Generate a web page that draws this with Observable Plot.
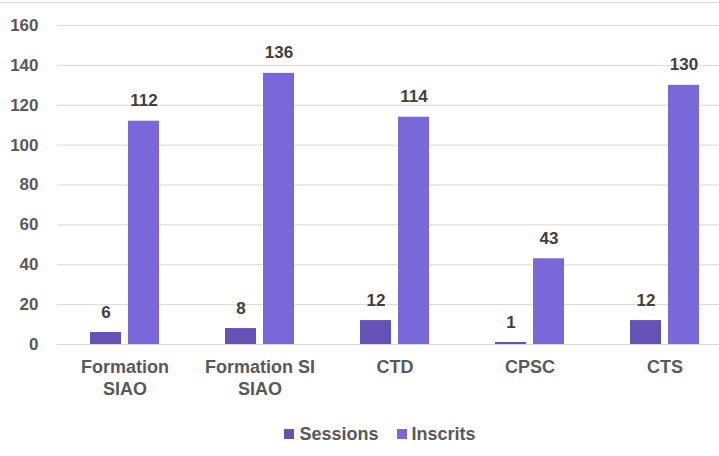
<!DOCTYPE html>
<html><head><meta charset="utf-8">
<script src="https://cdn.jsdelivr.net/npm/d3@7"></script>
<script src="https://cdn.jsdelivr.net/npm/@observablehq/plot@0.6"></script>
<style>
body{margin:0;background:#fff;font-family:"Liberation Sans",Arial,sans-serif;}
#wrap{width:719px;margin-top:2px;border-top:1px solid #d9d9d9;overflow:hidden;}
#chart svg{display:block;}
.legend{display:flex;justify-content:center;align-items:center;gap:18px;font-weight:bold;font-size:18px;color:#595959;margin-top:11px;padding-left:41px;line-height:20px;}
.legend span.item{display:flex;align-items:center;gap:5px;}
.legend span.sw{display:inline-block;width:10px;height:10px;}
</style>
</head><body>
<div id="wrap"><div id="chart"></div><div class="legend" id="legend"></div></div>
<script>
const categories = ["Formation SIAO", "Formation SI SIAO", "CTD", "CPSC", "CTS"];
const tickLabels = ["Formation\nSIAO", "Formation SI\nSIAO", "CTD", "CPSC", "CTS"];
const sessions = [6, 8, 12, 1, 12];
const inscrits = [112, 136, 114, 43, 130];
const seriesNames = ["Sessions", "Inscrits"];
const seriesColors = ["#6652b4", "#7a67d9"];
const yTicks = [0, 20, 40, 60, 80, 100, 120, 140, 160];

const sessRows = categories.map((c, i) => ({category: c, value: sessions[i]}));
const inscRows = categories.map((c, i) => ({category: c, value: inscrits[i]}));

const plot = Plot.plot({
  width: 719, height: 410,
  marginLeft: 57, marginRight: 0, marginTop: 22, marginBottom: 69,
  style: {fontFamily: "Liberation Sans, Arial, sans-serif", fontSize: "17px", fontWeight: "bold", background: "#fff"},
  x: {domain: categories, range: [57, 732], padding: 0, label: null},
  y: {domain: [0, 160], label: null},
  marks: [
    Plot.gridY(yTicks, {stroke: "#d9d9d9", strokeOpacity: 1, strokeWidth: 1}),
    Plot.axisY(yTicks, {tickSize: 0, tickPadding: 19, label: null, fill: "#595959", fontSize: 17}),
    Plot.axisX({tickSize: 0, tickPadding: 13, label: null, fill: "#595959", fontSize: 18, lineHeight: 1.22,
      tickFormat: d => tickLabels[categories.indexOf(d)]}),
    Plot.barY(sessRows, {x: "category", y: "value", fill: seriesColors[0], insetLeft: 33, insetRight: 71}),
    Plot.barY(inscRows, {x: "category", y: "value", fill: seriesColors[1], insetLeft: 71, insetRight: 33}),
    Plot.text(sessRows, {x: "category", y: "value", text: d => String(d.value), dx: -19, dy: -15, lineAnchor: "bottom", fill: "#404040", fontSize: 17, fontWeight: "bold"}),
    Plot.text(inscRows, {x: "category", y: "value", text: d => String(d.value), dx: 19, dy: -15, lineAnchor: "bottom", fill: "#404040", fontSize: 17, fontWeight: "bold"})
  ]
});
document.getElementById("chart").appendChild(plot);

const legend = document.getElementById("legend");
seriesNames.forEach((n, i) => {
  const it = document.createElement("span");
  it.className = "item";
  const sw = document.createElement("span");
  sw.className = "sw";
  sw.style.background = seriesColors[i];
  it.appendChild(sw);
  it.appendChild(document.createTextNode(n));
  legend.appendChild(it);
});
</script>
</body></html>
